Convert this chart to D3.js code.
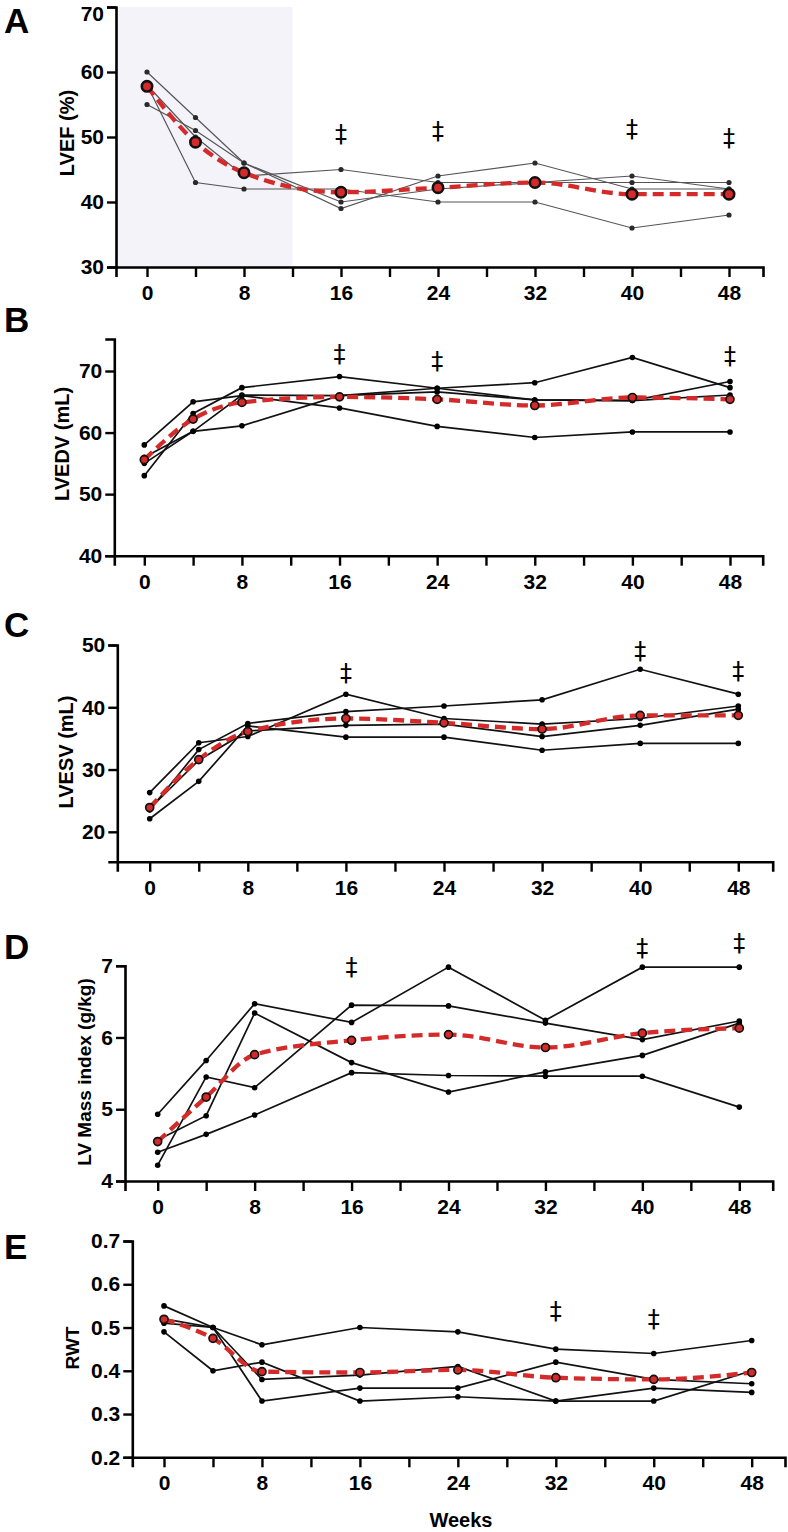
<!DOCTYPE html>
<html>
<head>
<meta charset="utf-8">
<script src="https://cdn.jsdelivr.net/npm/d3@7/dist/d3.min.js"></script>
<style>
  body { margin: 0; background: #fff; }
  svg { display: block; font-family: "Liberation Sans", Arial, Helvetica, sans-serif; }
</style>
</head>
<body>
<svg id="chart" width="788" height="1532"></svg>
<script>
// weeks of follow-up
const weeks = [0, 4, 8, 16, 24, 32, 40, 48];
const tickWeeks = [0, 4, 8, 12, 16, 20, 24, 28, 32, 36, 40, 44, 48];
const labelWeeks = [0, 8, 16, 24, 32, 40, 48];

// A - LVEF (%)
const lvefSubjects = [
  [60, 53, 46, 39, 44, 46, 42, 42],
  [55, 51, 46, 40, 42, 43, 44, 42],
  [58, 50, 44, 45, 43, 43, 43, 43],
  [58, 43, 42, 42, 40, 40, 36, 38]
];
const lvefMean = [57.8, 49.2, 44.5, 41.5, 42.2, 43.0, 41.2, 41.2];
const lvefDaggerWeeks = [16, 24, 40, 48];
const lvefDaggerLevel = [50.3, 50.8, 51.1, 49.7];
const lvefTicks = [30, 40, 50, 60, 70];

// B - LVEDV (mL)
const lvedvSubjects = [
  [58, 65, 66, 64, 61, 59.2, 60.1, 60.1],
  [53, 63.1, 67.3, 69.1, 67.2, 68.1, 72.2, 67.3],
  [56, 60.2, 66.1, 66, 66.6, 65.3, 65.2, 68.3],
  [55, 60.2, 61.1, 66, 67.2, 65.3, 65.2, 66.1]
];
const lvedvMean = [55.6, 62.2, 64.9, 65.8, 65.4, 64.4, 65.7, 65.4];
const lvedvDaggerWeeks = [16, 24, 48];
const lvedvDaggerLevel = [72.6, 71.5, 72.3];
const lvedvTicks = [40, 50, 60, 70];

// C - LVESV (mL)
const lvesvSubjects = [
  [26.3, 34.3, 35.3, 42.1, 38.2, 37.3, 38.2, 40.2],
  [23.5, 33.2, 37.4, 39.3, 40.2, 41.2, 46.1, 42.1],
  [23.7, 31.5, 36.2, 37.1, 37.3, 35.3, 37.1, 39.7],
  [22.1, 28.1, 37.0, 35.2, 35.2, 33.1, 34.2, 34.2]
];
const lvesvMean = [23.9, 31.6, 36.1, 38.2, 37.5, 36.5, 38.7, 38.7];
const lvesvDaggerWeeks = [16, 40, 48];
const lvesvDaggerLevel = [45.3, 48.9, 45.7];
const lvesvTicks = [20, 30, 40, 50];

// D - LV Mass index (g/kg)
const massSubjects = [
  [4.93, 5.68, 6.47, 6.21, 6.98, 6.24, 6.98, 6.98],
  [4.57, 4.91, 6.34, 5.65, 5.24, 5.52, 5.75, 6.20],
  [4.22, 5.45, 5.30, 6.45, 6.44, 6.20, 5.97, 6.23],
  [4.40, 4.65, 4.92, 5.51, 5.47, 5.46, 5.46, 5.03]
];
const massMean = [4.55, 5.17, 5.76, 5.96, 6.04, 5.86, 6.06, 6.13];
const massDaggerWeeks = [16, 40, 48];
const massDaggerLevel = [6.97, 7.23, 7.30];
const massTicks = [4, 5, 6, 7];

// E - RWT
const rwtSubjects = [
  [0.55, 0.50, 0.46, 0.50, 0.49, 0.45, 0.44, 0.47],
  [0.51, 0.50, 0.38, 0.39, 0.41, 0.33, 0.36, 0.35],
  [0.52, 0.50, 0.33, 0.36, 0.36, 0.42, 0.38, 0.37],
  [0.49, 0.40, 0.42, 0.33, 0.34, 0.33, 0.33, 0.40]
];
const rwtMean = [0.519, 0.475, 0.398, 0.396, 0.402, 0.384, 0.380, 0.396];
const rwtDaggerWeeks = [32, 40];
const rwtDaggerLevel = [0.536, 0.517];
const rwtTicks = [0.2, 0.3, 0.4, 0.5, 0.6, 0.7];

const red = "#d42a2a";

var svg = d3.select("#chart");

// layout for each panel (pixels)
var panels = [
  { letter: "A", letterY: 33, axisX: 116, xEnd: 763, w0: 147, w48: 729, yDom: [30, 70], yRange: [267, 7],
    ticks: lvefTicks, fmt: d3.format("d"), label: "LVEF (%)", labelX: 67, labelY: 133, labelSize: 20,
    subjects: lvefSubjects, mean: lvefMean, dagW: lvefDaggerWeeks, dagV: lvefDaggerLevel,
    shade: 12, thin: true },
  { letter: "B", letterY: 332, axisX: 114.3, xEnd: 762.7, w0: 144.3, w48: 730, yDom: [40, 75.2], yRange: [555.7, 339],
    ticks: lvedvTicks, fmt: d3.format("d"), label: "LVEDV (mL)", labelX: 62, labelY: 444, labelSize: 20,
    subjects: lvedvSubjects, mean: lvedvMean, dagW: lvedvDaggerWeeks, dagV: lvedvDaggerLevel },
  { letter: "C", letterY: 637, axisX: 117.3, xEnd: 772.7, w0: 149.7, w48: 738.3, yDom: [15.2, 50], yRange: [861.7, 645],
    ticks: lvesvTicks, fmt: d3.format("d"), label: "LVESV (mL)", labelX: 66, labelY: 752, labelSize: 20,
    subjects: lvesvSubjects, mean: lvesvMean, dagW: lvesvDaggerWeeks, dagV: lvesvDaggerLevel },
  { letter: "D", letterY: 959, axisX: 125, xEnd: 772.7, w0: 157.7, w48: 739.3, yDom: [4, 7], yRange: [1181, 965.7],
    ticks: massTicks, fmt: d3.format("d"), label: "LV Mass index (g/kg)", labelX: 84, labelY: 1072, labelSize: 19,
    subjects: massSubjects, mean: massMean, dagW: massDaggerWeeks, dagV: massDaggerLevel },
  { letter: "E", letterY: 1259, axisX: 132.3, xEnd: 785, w0: 164, w48: 751.7, yDom: [0.2, 0.7], yRange: [1457.3, 1241],
    ticks: rwtTicks, fmt: d3.format(".1f"), label: "RWT", labelX: 72, labelY: 1348, labelSize: 19,
    subjects: rwtSubjects, mean: rwtMean, dagW: rwtDaggerWeeks, dagV: rwtDaggerLevel }
];

panels.forEach(function(p) {
  var k = (p.w48 - p.w0) / 48;
  var x = d3.scaleLinear()
    .domain([(p.axisX - p.w0) / k, (p.xEnd - p.w0) / k])
    .range([p.axisX, p.xEnd]);
  var y = d3.scaleLinear().domain(p.yDom).range(p.yRange);
  var yBot = p.yRange[0], yTop = p.yRange[1];

  var g = svg.append("g");

  // shaded treatment window
  if (p.shade) {
    g.append("rect")
      .attr("x", p.axisX)
      .attr("y", yTop)
      .attr("width", x(p.shade) - p.axisX)
      .attr("height", yBot - yTop)
      .attr("fill", "#f3f3f9");
  }

  // panel letter
  g.append("text")
    .attr("x", 4)
    .attr("y", p.letterY)
    .text(p.letter)
    .style("font-size", "35px")
    .style("font-weight", "bold");

  // x axis
  var xAxis = d3.axisBottom(x)
    .tickValues(tickWeeks)
    .tickSizeOuter(0)
    .tickSize(10)
    .tickPadding(8)
    .tickFormat(function(d) { return labelWeeks.indexOf(d) >= 0 ? d : ""; });
  var xg = g.append("g")
    .attr("transform", `translate(0,${yBot})`)
    .call(xAxis);

  // y axis
  var yAxis = d3.axisLeft(y)
    .tickValues(p.ticks)
    .tickSizeOuter(0)
    .tickSize(9)
    .tickPadding(3)
    .tickFormat(p.fmt);
  var yg = g.append("g")
    .attr("transform", `translate(${p.axisX},0)`)
    .call(yAxis);

  [xg, yg].forEach(function(a) {
    a.select(".domain").attr("stroke", "#000").attr("stroke-width", 2.6);
    a.selectAll(".tick line").attr("stroke", "#000").attr("stroke-width", 2.4);
    a.selectAll(".tick text")
      .attr("fill", "#000")
      .style("font-size", "21px")
      .style("font-weight", "bold")
      .style("font-family", "'Liberation Sans', Arial, sans-serif");
  });

  // top label of panel A sits a bit low so it stays inside the page
  if (yTop < 15) {
    yg.selectAll(".tick text")
      .filter(function(d) { return d === p.yDom[1]; })
      .attr("dy", "0.62em");
  }

  // y label
  g.append("text")
    .attr("transform", `translate(${p.labelX},${p.labelY}) rotate(-90)`)
    .attr("text-anchor", "middle")
    .attr("dominant-baseline", "central")
    .text(p.label)
    .style("font-size", p.labelSize + "px")
    .style("font-weight", "bold");

  // individual subjects
  var line = d3.line()
    .x(function(d, i) { return x(weeks[i]); })
    .y(function(d) { return y(d); });

  p.subjects.forEach(function(s) {
    g.append("path")
      .attr("d", line(s))
      .attr("fill", "none")
      .attr("stroke", p.thin ? "#555" : "#111")
      .attr("stroke-width", p.thin ? 1.2 : 1.7);
    g.selectAll(null)
      .data(s)
      .enter()
      .append("circle")
      .attr("cx", function(d, i) { return x(weeks[i]); })
      .attr("cy", function(d) { return y(d); })
      .attr("r", p.thin ? 2.6 : 2.8)
      .attr("fill", p.thin ? "#2a2a2a" : "#000");
  });

  // mean curve
  var meanLine = d3.line()
    .curve(d3.curveMonotoneX)
    .x(function(d, i) { return x(weeks[i]); })
    .y(function(d) { return y(d); });

  g.append("path")
    .attr("d", meanLine(p.mean))
    .attr("fill", "none")
    .attr("stroke", red)
    .attr("stroke-width", 4.3)
    .attr("stroke-dasharray", "11,6");

  g.selectAll(null)
    .data(p.mean)
    .enter()
    .append("circle")
    .attr("cx", function(d, i) { return x(weeks[i]); })
    .attr("cy", function(d) { return y(d); })
    .attr("r", p.thin ? 5.2 : 4)
    .attr("fill", red)
    .attr("stroke", "#111")
    .attr("stroke-width", p.thin ? 2.6 : 1.7);

  // significance marks
  p.dagW.forEach(function(w, i) {
    g.append("text")
      .attr("x", x(w))
      .attr("y", y(p.dagV[i]))
      .attr("dy", "0.3em")
      .attr("text-anchor", "middle")
      .attr("fill", "#000")
      .text("\u2021")
      .style("font-family", "'DejaVu Sans', sans-serif")
      .style("font-size", "24px");
  });

  if (p.letter === "E") {
    g.append("text")
      .attr("x", 461)
      .attr("y", 1527)
      .attr("text-anchor", "middle")
      .text("Weeks")
      .style("font-size", "20px")
      .style("font-weight", "bold");
  }
});
</script>
</body>
</html>
